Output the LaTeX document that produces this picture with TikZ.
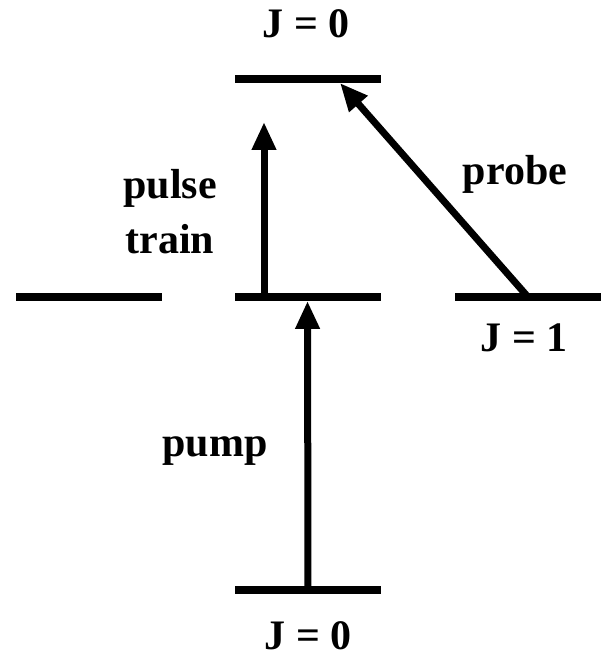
\documentclass[tikz,border=0pt]{standalone}
\usepackage{fontspec}
\setmainfont{Liberation Serif}
\usetikzlibrary{arrows.meta, positioning}

\begin{document}
\begin{tikzpicture}[
    x=1pt, y=1pt,
    every node/.style = {font=\fontsize{42}{55}\selectfont\bfseries},
    level/.style = {rectangle, fill=black, inner sep=0pt,
                    minimum width=146pt, minimum height=7.5pt},
    lbl/.style   = {anchor=base, inner sep=0pt},
    arrow/.style = {-{Triangle[length=28pt, width=23pt]}, line width=7pt},
]
\useasboundingbox (0,0) rectangle (603,658);

% --- energy levels ---
\node[level] (upper) at (308,579) {};
\node[level] (left)  at (88.5,361) {};
\node[level] (mid)   at (307.5,361) {};
\node[level] (right) at (527.5,361) {};
\node[level] (lower) at (308,68) {};

% --- labels ---
\node[lbl] (jtop) at (306,620) {J = 0};
\node[lbl] (jone) at (524,306) {J = 1};
\node[lbl] (jbot) at (308,9)   {J = 0};
\node[align=center, inner sep=0pt] (train) at (170,446) {pulse\\train};
\node[lbl] (probe) at (515,473) {probe};
\node[lbl] (pump)  at (215,201) {pump};

% --- transitions ---
\coordinate (trainstart) at (264,361);
\coordinate (trainend)   at (264,536);
\coordinate (probestart) at (528,361);
\coordinate (probeend)   at (340,575);
\draw[arrow] (lower.center) -- (mid.south);
\draw[arrow] (trainstart) -- (trainend);
\draw[arrow] (probestart) -- (probeend);

\end{tikzpicture}
\end{document}
